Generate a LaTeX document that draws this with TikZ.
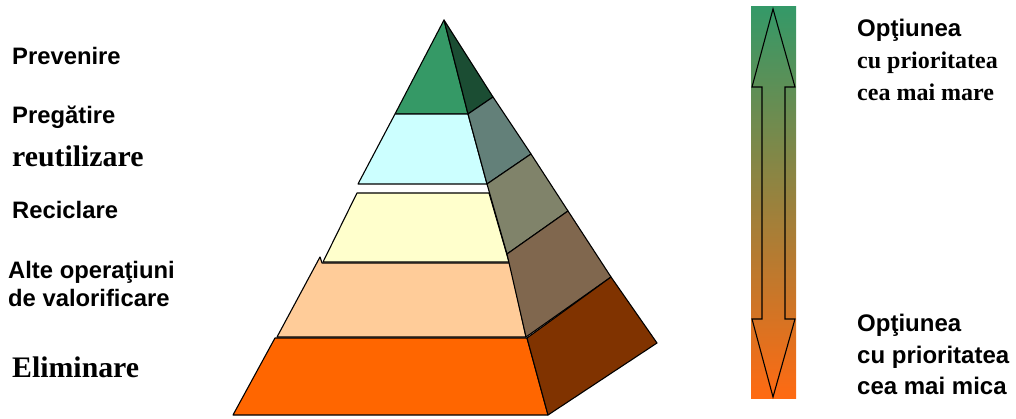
\documentclass[tikz,border=0pt]{standalone}
\usepackage{fontspec}
\setmainfont{Liberation Serif}
\setsansfont{Liberation Sans}
\definecolor{g1}{HTML}{359966}
\definecolor{g1s}{HTML}{1B4D33}
\definecolor{c2}{HTML}{CCFFFF}
\definecolor{c2s}{HTML}{638079}
\definecolor{y3}{HTML}{FFFFCC}
\definecolor{y3s}{HTML}{80836A}
\definecolor{p4}{HTML}{FFCC99}
\definecolor{p4s}{HTML}{80674E}
\definecolor{o5}{HTML}{FF6600}
\definecolor{o5s}{HTML}{803300}
\definecolor{bartop}{HTML}{349968}
\definecolor{barbot}{HTML}{FF6A12}
\tikzset{
  face/.style={draw=black, line width=1.1pt, line join=round},
  lbl/.style={anchor=base west, inner sep=0pt, font=\sffamily\bfseries\fontsize{23.8}{25}\selectfont},
  lbls/.style={anchor=base west, inner sep=0pt, font=\rmfamily\bfseries\fontsize{29.8}{30}\selectfont},
  rlbl/.style={anchor=base west, inner sep=0pt, font=\sffamily\bfseries\fontsize{24}{25}\selectfont},
  rlbls/.style={anchor=base west, inner sep=0pt, font=\rmfamily\bfseries\fontsize{24}{25}\selectfont},
}
\begin{document}
\begin{tikzpicture}[x=1pt,y=-1pt]
\useasboundingbox (0,0) rectangle (1016,419);
% tier 1
\fill[g1,face] (444,20) -- (395,114) -- (468,114) -- cycle;
\fill[g1s,face] (444,20) -- (493,97) -- (468,114) -- cycle;
% tier 2
\fill[c2,face] (395,114) -- (358,184) -- (487,184) -- (468,114) -- cycle;
\fill[c2s,face] (468,114) -- (493,97) -- (531,154) -- (487,184) -- cycle;
% tier 3
\fill[y3,face] (357,193) -- (323,262) -- (509,262) -- (489,193) -- cycle;
\fill[y3s,face] (487,184) -- (531,154) -- (568,211) -- (507,254) -- cycle;
% tier 4
\fill[p4,face] (320,257) -- (277,337) -- (526,337) -- (510,263) -- (322,263) -- cycle;
\fill[p4s,face] (507,254) -- (568,211) -- (611,277) -- (526,337) -- cycle;
% tier 5
\fill[o5,face] (275,338) -- (233,415) -- (548,415) -- (527,338) -- cycle;
\fill[o5s,face] (527,338) -- (611,277) -- (657,343) -- (548,415) -- cycle;
% left labels
\node[lbl] (prev) at (12,65) {Prevenire};
\node[lbl] (preg) at (12,124) {Pregătire};
\node[lbls] (reut) at (12,167) {reutilizare};
\node[lbl] (reci) at (12,219) {Reciclare};
\node[lbl] (alte) at (8,279) {Alte operaţiuni};
\node[lbl] (deval) at (8,306) {de valorificare};
\node[lbls] (elim) at (12,377) {Eliminare};
% gradient bar
\shade[top color=bartop, bottom color=barbot] (751,7) rectangle (796,398);
\node[inner sep=0pt, minimum width=45pt, minimum height=391pt] (bar) at (773.5,202.5) {};
% double arrow
\draw[line width=1.1pt, line join=miter] (773,9) -- (795,87) -- (785,87) -- (785,319) -- (795,319) -- (773,397) -- (752,319) -- (762,319) -- (762,87) -- (752,87) -- cycle;
% right labels
\node[rlbl] (o1) at (857,37) {Opţiunea};
\node[rlbls] (o2) at (857,69) {cu prioritatea};
\node[rlbls] (o3) at (857,101) {cea mai mare};
\node[rlbl] (o4) at (857,331) {Opţiunea};
\node[rlbl] (o5) at (857,363) {cu prioritatea};
\node[rlbl] (o6) at (857,394) {cea mai mica};
\end{tikzpicture}
\end{document}
